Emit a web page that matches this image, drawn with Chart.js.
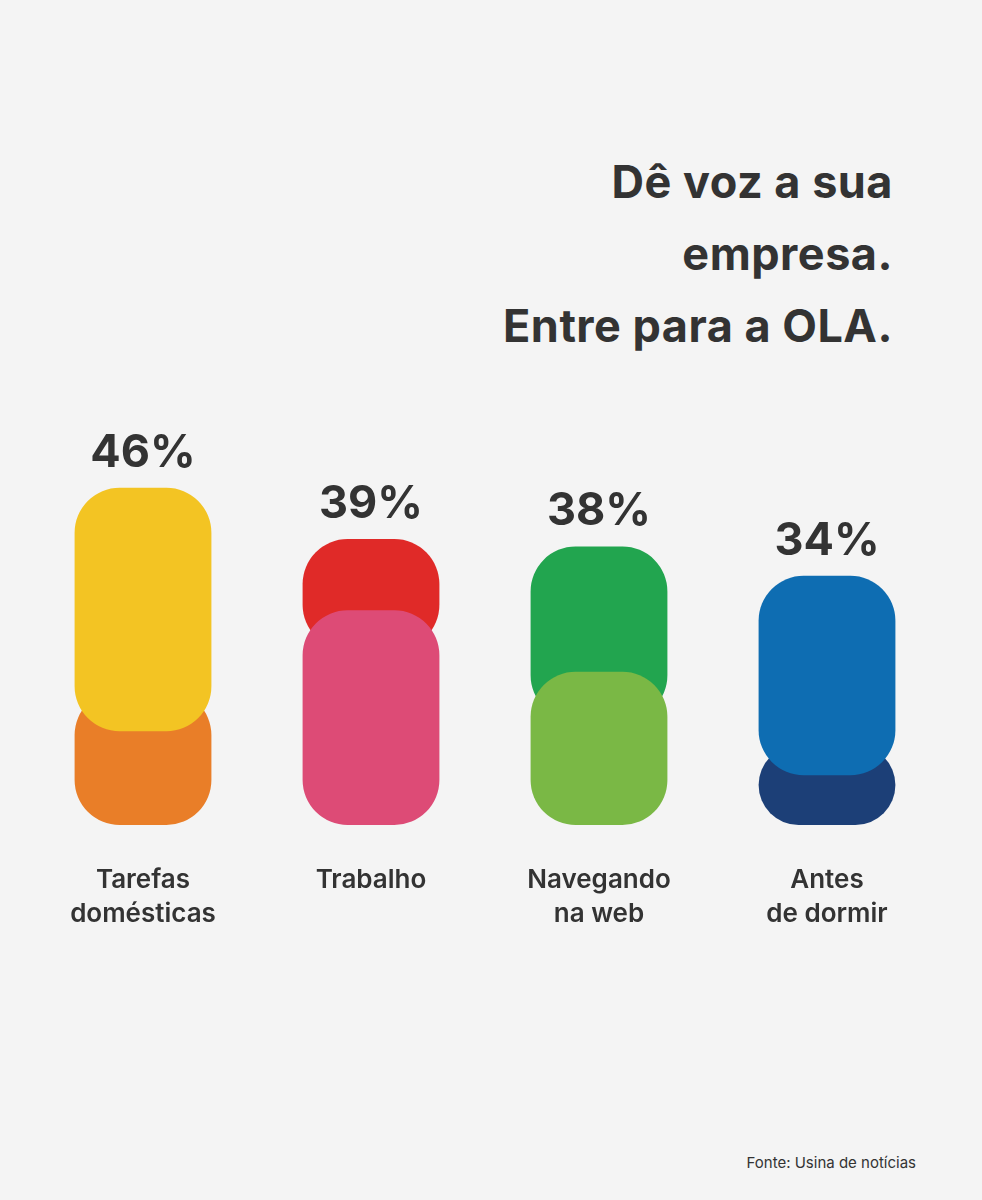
<!DOCTYPE html>
<html><head><meta charset="utf-8">
<script src="https://cdn.jsdelivr.net/npm/chart.js@4"></script>
<style>
body{margin:0;background:#f4f4f4;width:982px;height:1200px;position:relative;font-family:Inter,"Open Sans",sans-serif;color:#333}
#title{position:absolute;right:89px;top:146px;text-align:right;font-size:45px;font-weight:700;line-height:72px;letter-spacing:0.5px}
#src{position:absolute;right:66px;top:1153px;font-size:15px}
#wrap{position:absolute;left:0;top:420px;width:982px;height:560px}
</style></head><body>
<div id="title">Dê voz a sua<br>empresa.<br>Entre para a OLA.</div>
<div id="wrap"><canvas id="c"></canvas></div>
<div id="src">Fonte: Usina de notícias</div>
<script>
const categories = [['Tarefas','domésticas'], ['Trabalho'], ['Navegando','na web'], ['Antes','de dormir']];
const totals = [46, 39, 38, 34];
// back and front segments [from, to] in %
const backSeg = [[0, 18.4], [23.9, 39], [14.3, 38], [0, 10.9]];
const frontSeg = [[12.8, 46], [0, 29.3], [0, 20.9], [6.8, 34]];
const backColors = ['#e97e28', '#e02a28', '#22a54f', '#1c3f77'];
const frontColors = ['#f3c423', '#dd4b76', '#7ab845', '#0e6db2'];

const labelPlugin = {
    id: 'labels',
    afterDatasetsDraw(chart) {
        const ctx = chart.ctx;
        const x = chart.scales.x, y = chart.scales.y;
        ctx.save();
        ctx.fillStyle = '#333';
        ctx.textAlign = 'center';
        totals.forEach((v, i) => {
            const px = x.getPixelForValue(i);
            ctx.font = '700 45px Inter, sans-serif';
            ctx.textBaseline = 'bottom';
            ctx.fillText(v + '%', px, y.getPixelForValue(v) - 12);
            ctx.font = '600 26px Inter, sans-serif';
            ctx.textBaseline = 'middle';
            categories[i].forEach((line, j) => {
                ctx.fillText(line, px, y.bottom + 55 + j * 34);
            });
        });
        ctx.restore();
    }
};

new Chart(document.getElementById('c'), {
    type: 'bar',
    data: {
        labels: categories.map(c => c.join(' ')),
        datasets: [
            { data: frontSeg, backgroundColor: frontColors, borderRadius: 45, borderSkipped: false, order: 0 },
            { data: backSeg, backgroundColor: backColors, borderRadius: 45, borderSkipped: false, order: 1 }
        ]
    },
    options: {
        responsive: true,
        maintainAspectRatio: false,
        animation: false,
        layout: { padding: { left: 29, right: 41, top: 0, bottom: 155 } },
        datasets: { bar: { grouped: false, barPercentage: 1, categoryPercentage: 0.6 } },
        plugins: { legend: { display: false }, tooltip: { enabled: false } },
        scales: {
            x: { display: false },
            y: { display: false, min: 0, max: 55.25 }
        }
    },
    plugins: [labelPlugin]
});
</script>
</body></html>
